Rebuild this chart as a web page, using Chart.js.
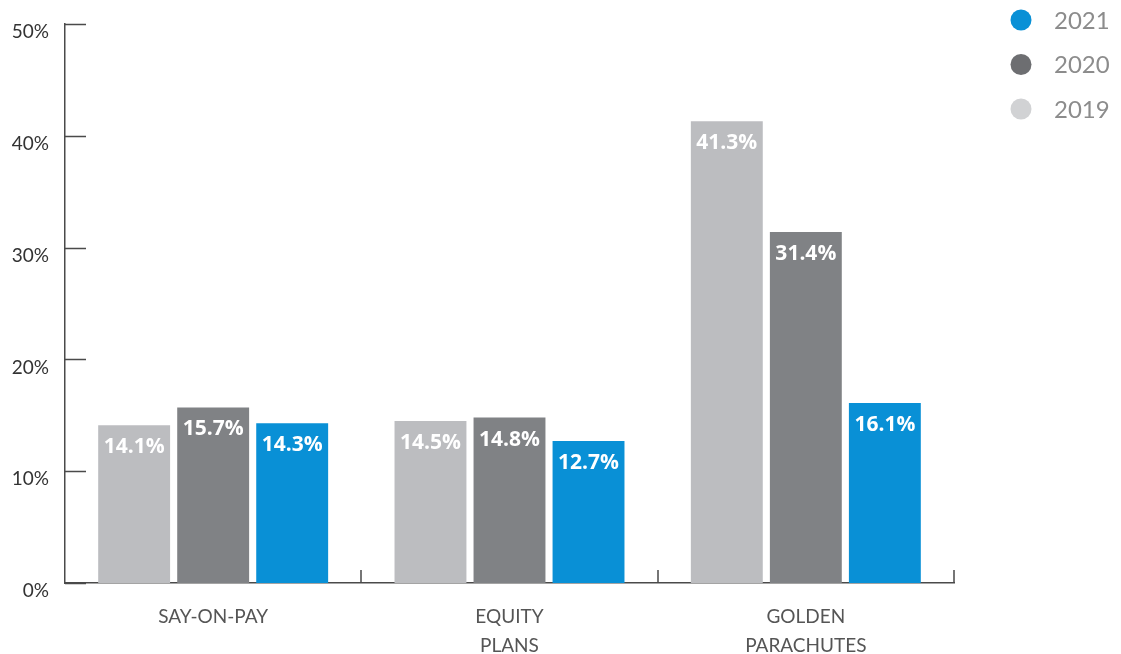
<!DOCTYPE html>
<html>
<head>
<meta charset="utf-8">
<script src="https://cdn.jsdelivr.net/npm/chart.js@4"></script>
<style>
  html, body { margin: 0; padding: 0; background: #fff; }
  #wrap { width: 1121px; height: 654px; }
</style>
</head>
<body>
<div id="wrap"><canvas id="proxyChart"></canvas></div>
<script>
// Proposal categories and failure rates by year (percent)
const categories = [['SAY-ON-PAY'], ['EQUITY', 'PLANS'], ['GOLDEN', 'PARACHUTES']];
const years = ['2019', '2020', '2021'];
const values2019 = [14.1, 14.5, 41.3];
const values2020 = [15.7, 14.8, 31.4];
const values2021 = [14.3, 12.7, 16.1];

const barColors = ['#bcbdc0', '#808285', '#0990d6'];
const legendColors = ['#d1d2d4', '#6d6e71', '#0990d6'];
const axisColor = '#4a4a4a';
const FONT = 'Lato, "Open Sans", sans-serif';
const BOLD_FONT = '"Open Sans", Lato, sans-serif';

// value labels sitting just inside the top of each bar
const barValueLabels = {
    id: 'barValueLabels',
    afterDatasetsDraw(chart) {
        const ctx = chart.ctx;
        ctx.save();
        ctx.font = 'bold 21px ' + BOLD_FONT;
        ctx.fillStyle = '#ffffff';
        ctx.textAlign = 'center';
        ctx.textBaseline = 'middle';
        chart.data.datasets.forEach((ds, di) => {
            const meta = chart.getDatasetMeta(di);
            meta.data.forEach((bar, i) => {
                ctx.fillText(ds.data[i].toFixed(1) + '%', bar.x, bar.y + 22);
            });
        });
        ctx.restore();
    }
};

// short tick marks pointing into the plot area
const innerTicks = {
    id: 'innerTicks',
    afterDraw(chart) {
        const { ctx, chartArea, scales: { x, y } } = chart;
        ctx.save();
        ctx.strokeStyle = axisColor;
        ctx.lineWidth = 1.5;
        ctx.beginPath();
        y.ticks.forEach(t => {
            const py = Math.round(y.getPixelForValue(t.value)) + 0.5;
            ctx.moveTo(chartArea.left, py);
            ctx.lineTo(chartArea.left + 21, py);
        });
        for (let i = 1; i <= categories.length; i++) {
            const px = Math.round(x.getPixelForValue(i - 0.5));
            ctx.moveTo(px, chartArea.bottom);
            ctx.lineTo(px, chartArea.bottom - 13);
        }
        ctx.stroke();
        ctx.restore();
    }
};

// year key in the top-right corner, newest first
const yearKey = {
    id: 'yearKey',
    afterDraw(chart) {
        const ctx = chart.ctx;
        ctx.save();
        ctx.font = '24px ' + FONT;
        ctx.textBaseline = 'middle';
        ctx.textAlign = 'left';
        const order = chart.data.datasets.map((d, i) => i).reverse();
        order.forEach((di, row) => {
            const cy = 20 + row * 44.5;
            ctx.fillStyle = legendColors[di];
            ctx.beginPath();
            ctx.arc(1021, cy, 10.5, 0, Math.PI * 2);
            ctx.fill();
            ctx.fillStyle = '#8c8c8c';
            ctx.fillText(chart.data.datasets[di].label, 1054, cy + 1);
        });
        ctx.restore();
    }
};

const datasets = [values2019, values2020, values2021].map((vals, i) => ({
    label: years[i],
    data: vals,
    backgroundColor: barColors[i],
    borderWidth: 0,
    categoryPercentage: 0.8,
    barPercentage: 0.91
}));

new Chart(document.getElementById('proxyChart'), {
    type: 'bar',
    data: { labels: categories, datasets },
    options: {
        responsive: true,
        maintainAspectRatio: false,
        animation: false,
        layout: { padding: { top: 24, right: 167, left: 0, bottom: 0 } },
        plugins: {
            legend: { display: false },
            tooltip: { enabled: false }
        },
        scales: {
            x: {
                grid: { display: false },
                border: { display: true, color: axisColor, width: 1.5 },
                ticks: {
                    color: '#555',
                    font: { family: FONT, size: 19, lineHeight: 1.5 },
                    padding: 12,
                    maxRotation: 0
                },
                afterFit(scale) { scale.height = 71; }
            },
            y: {
                min: 0,
                max: 50,
                grid: { display: false },
                border: { display: true, color: axisColor, width: 1.5 },
                ticks: {
                    stepSize: 10,
                    color: '#333',
                    font: { family: FONT, size: 19 },
                    padding: 8,
                    labelOffset: 8,
                    callback: v => v + '%'
                },
                afterFit(scale) { scale.width = 65; }
            }
        }
    },
    plugins: [barValueLabels, innerTicks, yearKey]
});
</script>
</body>
</html>
